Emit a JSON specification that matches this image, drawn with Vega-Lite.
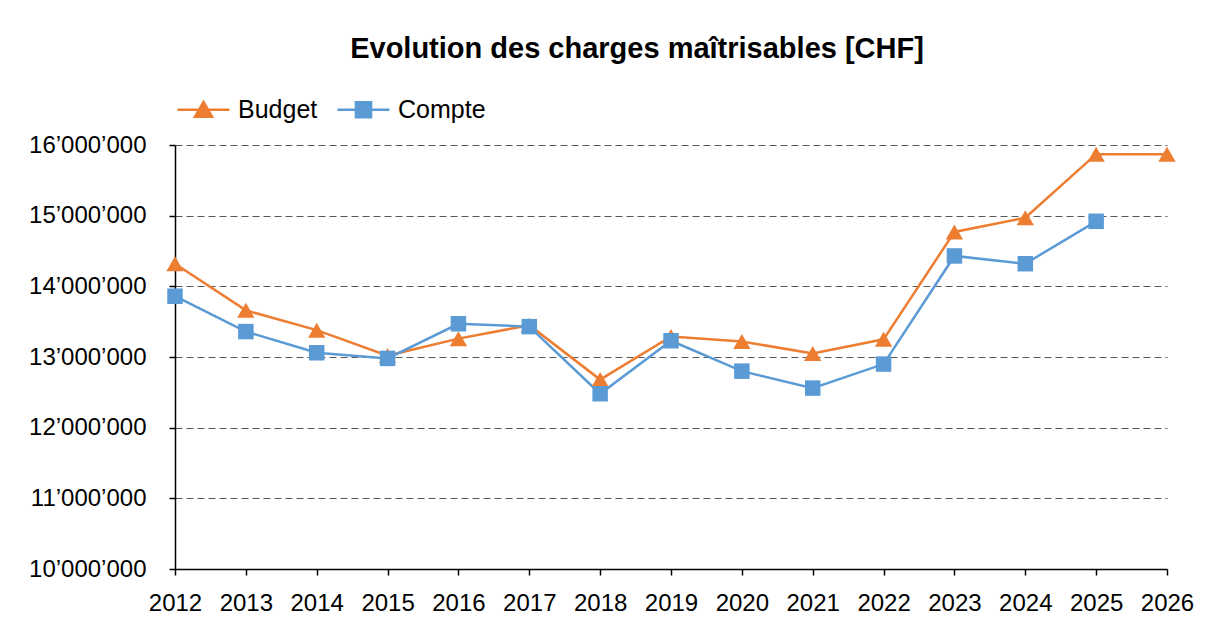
{
  "$schema": "https://vega.github.io/schema/vega-lite/v6.json",
  "width": 992,
  "height": 424,
  "autosize": {"type": "none"},
  "padding": {"left": 175, "top": 145, "right": 45, "bottom": 63},
  "background": "white",
  "title": {
    "text": "Evolution des charges maîtrisables [CHF]",
    "font": "Liberation Sans",
    "fontSize": 29,
    "fontWeight": "bold",
    "color": "#000000",
    "anchor": "middle",
    "dx": -34,
    "offset": 18
  },
  "config": {
    "view": {"stroke": null},
    "font": "Liberation Sans"
  },
  "data": {
    "values": [
      {"year": "2012", "series": "Budget", "value": 14320000},
      {"year": "2013", "series": "Budget", "value": 13660000},
      {"year": "2014", "series": "Budget", "value": 13380000},
      {"year": "2015", "series": "Budget", "value": 13020000},
      {"year": "2016", "series": "Budget", "value": 13260000},
      {"year": "2017", "series": "Budget", "value": 13450000},
      {"year": "2018", "series": "Budget", "value": 12680000},
      {"year": "2019", "series": "Budget", "value": 13290000},
      {"year": "2020", "series": "Budget", "value": 13220000},
      {"year": "2021", "series": "Budget", "value": 13050000},
      {"year": "2022", "series": "Budget", "value": 13250000},
      {"year": "2023", "series": "Budget", "value": 14770000},
      {"year": "2024", "series": "Budget", "value": 14970000},
      {"year": "2025", "series": "Budget", "value": 15870000},
      {"year": "2026", "series": "Budget", "value": 15870000},
      {"year": "2012", "series": "Compte", "value": 13860000},
      {"year": "2013", "series": "Compte", "value": 13360000},
      {"year": "2014", "series": "Compte", "value": 13060000},
      {"year": "2015", "series": "Compte", "value": 12980000},
      {"year": "2016", "series": "Compte", "value": 13470000},
      {"year": "2017", "series": "Compte", "value": 13430000},
      {"year": "2018", "series": "Compte", "value": 12480000},
      {"year": "2019", "series": "Compte", "value": 13230000},
      {"year": "2020", "series": "Compte", "value": 12800000},
      {"year": "2021", "series": "Compte", "value": 12560000},
      {"year": "2022", "series": "Compte", "value": 12900000},
      {"year": "2023", "series": "Compte", "value": 14430000},
      {"year": "2024", "series": "Compte", "value": 14320000},
      {"year": "2025", "series": "Compte", "value": 14920000}
    ]
  },
  "encoding": {
    "x": {
      "field": "year",
      "type": "ordinal",
      "scale": {"type": "point", "padding": 0},
      "axis": {
        "title": null,
        "labelAngle": 0,
        "labelFont": "Liberation Sans",
        "labelFontSize": 24,
        "labelColor": "#000000",
        "labelPadding": 16,
        "domainColor": "#000000",
        "domainWidth": 1.5,
        "tickColor": "#000000",
        "tickWidth": 1.5,
        "tickSize": 6,
        "grid": false
      }
    },
    "y": {
      "field": "value",
      "type": "quantitative",
      "scale": {"domain": [10000000, 16000000], "nice": false, "zero": false},
      "axis": {
        "title": null,
        "values": [10000000, 11000000, 12000000, 13000000, 14000000, 15000000, 16000000],
        "labelExpr": "replace(format(datum.value, ','), regexp(',', 'g'), '’')",
        "labelFont": "Liberation Sans",
        "labelFontSize": 24,
        "labelColor": "#000000",
        "labelPadding": 23,
        "domainColor": "#000000",
        "domainWidth": 1.5,
        "tickColor": "#000000",
        "tickWidth": 1.5,
        "tickSize": 6,
        "grid": true,
        "gridColor": "#595959",
        "gridWidth": 1.2,
        "gridDash": [7, 4]
      }
    }
  },
  "layer": [
    {
      "mark": {"type": "line", "strokeWidth": 2.5},
      "encoding": {
        "color": {
          "field": "series",
          "type": "nominal",
          "scale": {"domain": ["Budget", "Compte"], "range": ["#ED7D31", "#5B9BD5"]},
          "legend": {
            "title": null,
            "orient": "none",
            "direction": "horizontal",
            "legendX": 1,
            "legendY": -63,
            "padding": 0,
            "labelFont": "Liberation Sans",
            "labelFontSize": 25,
            "labelColor": "#000000",
            "labelOffset": 7,
            "columnPadding": 14,
            "symbolSize": 2704,
            "encode": {
              "symbols": {
                "update": {
                  "shape": {"signal": "datum.value === 'Budget' ? 'M-1,0H1M0,-0.3L0.33,0.27H-0.33Z' : 'M-1,0H1M-0.29,-0.29H0.29V0.29H-0.29Z'"},
                  "fill": {"scale": "color", "field": "value"},
                  "stroke": {"scale": "color", "field": "value"},
                  "strokeWidth": {"value": 2.5},
                  "size": {"value": 2704},
                  "opacity": {"value": 1},
                  "fillOpacity": {"value": 1}
                }
              }
            }
          }
        }
      }
    },
    {
      "transform": [{"filter": "datum.series === 'Budget'"}],
      "mark": {"type": "point", "filled": true, "opacity": 1, "size": 300, "shape": "triangle-up", "color": "#ED7D31"},
      "encoding": {}
    },
    {
      "transform": [{"filter": "datum.series === 'Compte'"}],
      "mark": {"type": "point", "filled": true, "opacity": 1, "size": 240, "shape": "square", "color": "#5B9BD5"},
      "encoding": {}
    }
  ]
}
